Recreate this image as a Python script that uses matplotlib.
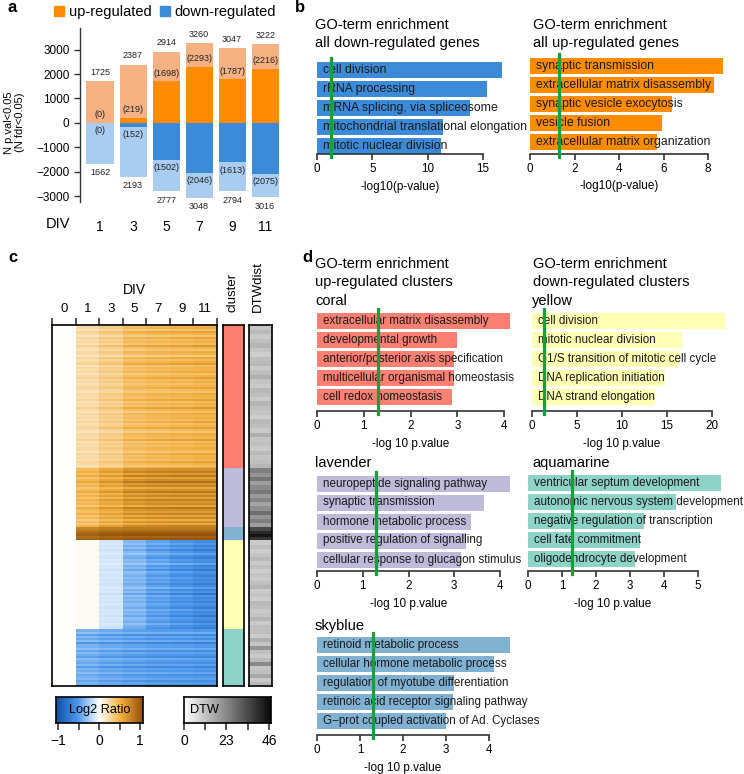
import numpy as np
import matplotlib
matplotlib.use("Agg")
import matplotlib.pyplot as plt
from matplotlib.colors import LinearSegmentedColormap, ListedColormap
from matplotlib.patches import Patch

plt.rcParams['font.family'] = ['Liberation Sans', 'DejaVu Sans']

W, H = 744, 774

########################### panel a data ###########################
div = ['1', '3', '5', '7', '9', '11']
up_total = [1725, 2387, 2914, 3260, 3047, 3222]
up_fdr = [0, 219, 1698, 2293, 1787, 2216]
down_total = [1662, 2193, 2777, 3048, 2794, 3016]
down_fdr = [0, 152, 1502, 2046, 1613, 2075]

########################### panel b data ###########################
b_down_terms = ['cell division', 'rRNA processing', 'mRNA splicing, via spliceosome',
                'mitochondrial translational elongation', 'mitotic nuclear division']
b_down_vals = [16.7, 15.4, 13.8, 11.4, 11.2]
b_up_terms = ['synaptic transmission', 'extracellular matrix disassembly',
              'synaptic vesicle exocytosis', 'vesicle fusion',
              'extracellular matrix organization']
b_up_vals = [8.66, 8.25, 6.37, 5.93, 5.7]

########################### panel c data ###########################
timepoints = ['0', '1', '3', '5', '7', '9', '11']
cluster_names = ['coral', 'lavender', 'skyblue', 'yellow', 'aquamarine']
cluster_colors = ['#FB8072', '#BEBADA', '#80B1D3', '#FFFFB3', '#8DD3C7']
cluster_rows = [143, 59, 13, 89, 57]
# mean log2 ratio per DIV for each cluster
profiles = {
    'coral':      [0, 0.22, 0.30, 0.40, 0.43, 0.45, 0.47],
    'lavender':   [0, 0.42, 0.52, 0.62, 0.65, 0.66, 0.66],
    'skyblue':    [0, 0.80, 0.84, 0.86, 0.86, 0.87, 0.87],
    'yellow':     [0, 0.03, -0.12, -0.35, -0.45, -0.52, -0.58],
    'aquamarine': [0, -0.38, -0.42, -0.45, -0.47, -0.48, -0.50],
}
# row band strength (relative to the mean profile), top to bottom
bands = {
    'coral': [0.9, 1.1, 0.8, 1.2, 1.0, 0.75, 1.15, 0.9, 1.05, 0.85, 1.3, 0.95,
              0.8, 1.1, 1.0, 0.7, 1.15, 0.9, 1.05, 1.25, 0.85, 1.0, 0.95, 1.1,
              0.8, 1.0, 1.2, 0.9, 1.05, 0.85, 1.0, 1.15, 0.9, 0.8, 1.1, 1.0,
              0.95, 1.2, 0.85, 1.05, 0.9, 1.3, 1.0, 0.8, 1.1, 0.95, 1.05, 0.9,
              1.15, 0.85, 1.0, 1.2, 0.9, 0.75, 1.1, 1.0, 0.95, 1.25, 0.85, 1.05,
              0.9, 1.1, 1.0, 0.8, 1.15, 0.95, 1.05, 0.9, 1.2, 1.0, 0.85, 1.1],
    'lavender': [1.0, 1.15, 0.9, 1.2, 0.85, 1.05, 1.25, 0.95, 1.1, 0.8, 1.0,
                 1.2, 0.9, 1.1, 0.85, 1.15, 0.95, 1.05, 0.8, 1.2, 1.0, 0.9,
                 1.1, 0.85, 1.05, 0.75, 1.0, 0.8, 1.1],
    'skyblue': [0.9, 1.0, 1.1, 1.15, 1.05, 1.12],
    'yellow': [1.0, 0.85, 1.1, 0.9, 1.2, 0.95, 0.8, 1.05, 1.15, 0.9, 1.0, 0.75,
               1.1, 0.95, 1.2, 0.85, 1.0, 1.1, 0.9, 1.05, 0.95, 1.15, 1.0, 0.8,
               1.1, 0.9, 1.25, 0.85, 1.05, 0.95, 1.1, 0.9, 1.0, 1.15, 0.85,
               1.05, 0.95, 1.2, 0.9, 1.0, 1.1, 0.85, 1.05, 1.15],
    'aquamarine': [1.0, 0.8, 1.2, 0.9, 1.1, 0.85, 1.3, 0.95, 1.0, 0.8, 1.15,
                   0.9, 1.05, 1.2, 0.85, 1.0, 1.1, 0.9, 1.25, 0.95, 1.05, 0.85,
                   1.1, 1.0, 0.9, 1.15, 0.95, 1.05],
}
dtw_bands = {
    'coral': [11, 13, 10, 12, 14, 11, 9, 12, 13, 10, 12, 15, 11, 10, 13, 12,
              10, 14, 12, 11, 9, 13, 12, 10, 15, 11, 12, 10, 13, 11, 12, 14],
    'lavender': [24, 20, 26, 18, 22, 25, 19, 23, 17, 21, 27, 20, 24, 18],
    'skyblue': [34, 40, 44, 38],
    'yellow': [10, 12, 9, 11, 13, 10, 12, 9, 11, 10, 12, 14, 10, 11, 9, 13,
               12, 10, 11, 14, 10, 12],
    'aquamarine': [12, 10, 15, 11, 20, 12, 10, 13, 22, 11, 12, 16, 10, 13],
}

########################### panel d data ###########################
coral_terms = ['extracellular matrix disassembly', 'developmental growth',
               'anterior/posterior axis specification',
               'multicellular organismal homeostasis', 'cell redox homeostasis']
coral_vals = [4.12, 3.0, 2.93, 2.93, 2.89]
yellow_terms = ['cell division', 'mitotic nuclear division',
                'G1/S transition of mitotic cell cycle', 'DNA replication initiation',
                'DNA strand elongation']
yellow_vals = [21.4, 16.7, 16.3, 14.8, 13.7]
lavender_terms = ['neuropeptide signaling pathway', 'synaptic transmission',
                  'hormone metabolic process', 'positive regulation of signalling',
                  'cellular response to glucagon stimulus']
lavender_vals = [4.22, 3.65, 3.37, 3.26, 3.15]
aqua_terms = ['ventricular septum development', 'autonomic nervous system development',
              'negative regulation of transcription', 'cell fate commitment',
              'oligodendrocyte development']
aqua_vals = [5.68, 4.36, 3.4, 3.29, 3.15]
sky_terms = ['retinoid metabolic process', 'cellular hormone metabolic process',
             'regulation of myotube differentiation',
             'retinoic acid receptor signaling pathway',
             'G\u2212prot coupled activation of Ad. Cyclases']
sky_vals = [4.49, 4.12, 3.19, 3.16, 3.0]
threshold = 1.3

up_dark, up_light = '#FF8C00', '#F6B183'
down_dark, down_light = '#3B8BD9', '#A8CDF0'
green = '#16A03C'
axcol = '#333333'

fig = plt.figure(figsize=(W / 100, H / 100), dpi=100)


def px_axes(x0, y0, x1, y1):
    # axes from pixel box (top-left origin)
    return fig.add_axes([x0 / W, 1 - y1 / H, (x1 - x0) / W, (y1 - y0) / H])


def ftext(x, y, s, **kw):
    fig.text(x / W, 1 - y / H, s, **kw)


## panel letters
for lab, x, y in [('a', 12, 8), ('b', 300, 8), ('c', 13, 258), ('d', 307, 258)]:
    ftext(x, y, lab, fontsize=12, fontweight='bold', ha='center', va='center')

########################### panel a ###########################
ax = px_axes(80, 28, 285, 202)
x = np.arange(len(div))
ax.bar(x, up_total, width=0.82, color=up_light)
ax.bar(x, up_fdr, width=0.82, color=up_dark)
ax.bar(x, [-v for v in down_total], width=0.82, color=down_light)
ax.bar(x, [-v for v in down_fdr], width=0.82, color=down_dark)
for i in range(len(div)):
    ax.annotate(str(up_total[i]), (i, up_total[i]), xytext=(0, 3), textcoords='offset points',
                ha='center', va='bottom', fontsize=6.5, color='#222222')
    ax.annotate('(%d)' % up_fdr[i], (i, up_fdr[i]), xytext=(0, 2.5), textcoords='offset points',
                ha='center', va='bottom', fontsize=6.5, color='#222222')
    ax.annotate(str(down_total[i]), (i, -down_total[i]), xytext=(0, -3.5), textcoords='offset points',
                ha='center', va='top', fontsize=6.5, color='#222222')
    ax.annotate('(%d)' % down_fdr[i], (i, -down_fdr[i]), xytext=(0, -2.5), textcoords='offset points',
                ha='center', va='top', fontsize=6.5, color='#222222')
ax.set_xlim(-0.606, 5.6)
ax.set_ylim(-3230, 3880)
ax.set_yticks([-3000, -2000, -1000, 0, 1000, 2000, 3000])
ax.tick_params(axis='y', labelsize=8.5, length=4, width=1, color=axcol)
ax.set_xticks(x)
ax.set_xticklabels(div, fontsize=10)
ax.tick_params(axis='x', length=0, pad=13)
for s in ['top', 'right', 'bottom']:
    ax.spines[s].set_visible(False)
ax.spines['left'].set_color(axcol)
ax.spines['left'].set_linewidth(1)
ftext(58, 224, 'DIV', fontsize=10.5, ha='center', va='center')
ftext(9, 123, 'N p.val<0.05', fontsize=8, rotation=90, ha='center', va='center')
ftext(20, 122, '(N fdr<0.05)', fontsize=8, rotation=90, ha='center', va='center')
fig.legend([Patch(color=up_dark), Patch(color=down_dark)], ['up-regulated', 'down-regulated'],
           loc='center', bbox_to_anchor=(165 / W, 1 - 12 / H), ncol=2, frameon=False,
           fontsize=10.5, handlelength=0.7, handleheight=0.7, handletextpad=0.3,
           columnspacing=0.6, borderaxespad=0)


########################### GO bar charts ###########################
def go_bars(left, unit, row0, axis_y, tick_max, tick_step, terms, vals, color, xlabel, fs=8.4):
    right = left + max(vals) * unit + 8
    top = row0 - 13
    ax = px_axes(left, top, right, axis_y)
    ax.set_xlim(0, (right - left) / unit)
    ax.set_ylim((axis_y - row0) / 19.0, (top - row0) / 19.0)
    ax.barh(np.arange(len(vals)), vals, height=16 / 19.0, color=color)
    for i, t in enumerate(terms):
        ax.annotate(t, (0, i), xytext=(4, 0), textcoords='offset points',
                    ha='left', va='center', fontsize=fs, color='#1a1a1a')
    ax.plot([threshold, threshold], [(top + 1 - row0) / 19.0, (axis_y + 3 - row0) / 19.0],
            color=green, lw=2.3, clip_on=False, zorder=5)
    for s in ['top', 'right', 'left']:
        ax.spines[s].set_visible(False)
    ax.spines['bottom'].set_bounds(0, tick_max)
    ax.spines['bottom'].set_color(axcol)
    ax.spines['bottom'].set_linewidth(1.2)
    ax.set_yticks([])
    ax.set_xticks(np.arange(0, tick_max + 0.01, tick_step))
    ax.tick_params(axis='x', labelsize=8.4, length=4, width=1.2, color=axcol, pad=2.5)
    ftext(left + tick_max / 2.0 * unit, axis_y + 33, xlabel, fontsize=8.5, ha='center', va='center')
    return ax


## panel b
ftext(315, 25, 'GO-term enrichment', fontsize=10.5, va='center')
ftext(315, 43, 'all down-regulated genes', fontsize=10.5, va='center')
ftext(533, 25, 'GO-term enrichment', fontsize=10.5, va='center')
ftext(533, 43, 'all up-regulated genes', fontsize=10.5, va='center')
go_bars(317, 11.07, 70, 154, 15, 5, b_down_terms, b_down_vals, down_dark, '-log10(p-value)', fs=8.8)
go_bars(530, 22.25, 66, 153.5, 8, 2, b_up_terms, b_up_vals, up_dark, '-log10(p-value)', fs=8.8)

## panel d
ftext(315, 264, 'GO-term enrichment', fontsize=10.5, va='center')
ftext(315, 282, 'up-regulated clusters', fontsize=10.5, va='center')
ftext(533, 264, 'GO-term enrichment', fontsize=10.5, va='center')
ftext(533, 282, 'down-regulated clusters', fontsize=10.5, va='center')
ftext(315, 301, 'coral', fontsize=10.5, va='center')
ftext(532, 301, 'yellow', fontsize=10.5, va='center')
ftext(315, 463, 'lavender', fontsize=10.5, va='center')
ftext(532, 463, 'aquamarine', fontsize=10.5, va='center')
ftext(315, 626, 'skyblue', fontsize=10.5, va='center')
go_bars(317, 46.8, 320.5, 411, 4, 1, coral_terms, coral_vals, '#FB8072', '-log 10 p.value')
go_bars(532, 9.0, 320.5, 411, 20, 5, yellow_terms, yellow_vals, '#FFFFB3', '-log 10 p.value')
go_bars(317, 45.75, 483.5, 571, 4, 1, lavender_terms, lavender_vals, '#BEBADA', '-log 10 p.value')
go_bars(528, 34.0, 483, 571, 5, 1, aqua_terms, aqua_vals, '#8DD3C7', '-log 10 p.value')
go_bars(317, 43.0, 645, 735, 4, 1, sky_terms, sky_vals, '#80B1D3', '-log 10 p.value')

########################### panel c ###########################
ratio_cmap = LinearSegmentedColormap.from_list(
    'ratio', [(0, '#0D4FA8'), (0.25, '#4C98EC'), (0.5, '#FFFFFF'), (0.75, '#F2AE3C'), (1, '#94520A')])
dtw_cmap = LinearSegmentedColormap.from_list('dtw', ['#FFFFFF', '#0A0A0A'])

rows = []
clus = []
dtw = []
for k, name in enumerate(cluster_names):
    n = cluster_rows[k]
    b = np.array(bands[name])
    idx = (np.arange(n) * len(b)) // n
    rows.append(np.array(profiles[name])[None, :] * b[idx][:, None])
    clus += [k] * n
    d = np.array(dtw_bands[name])
    dtw += list(d[(np.arange(n) * len(d)) // n])
mat = np.clip(np.vstack(rows), -1, 1)
nrow = mat.shape[0]

ax = px_axes(52, 325, 217, 686)
ax.imshow(mat, cmap=ratio_cmap, vmin=-1, vmax=1, aspect='auto', interpolation='nearest',
          extent=[0, 7, nrow, 0])
ax.xaxis.tick_top()
ax.set_xticks(np.arange(8))
ax.set_xticklabels([])
ax.set_xticks(np.arange(7) + 0.5, minor=True)
ax.set_xticklabels(timepoints, minor=True, fontsize=9.5)
ax.tick_params(axis='x', which='major', length=5, width=1.2, color=axcol, top=True)
ax.tick_params(axis='x', which='minor', length=0, pad=7, top=True)
ax.set_yticks([])
for s in ax.spines.values():
    s.set_linewidth(1.2)
ftext(134, 290, 'DIV', fontsize=10, ha='center', va='center')

ax = px_axes(223, 325, 244, 686)
ax.imshow(np.array(clus)[:, None], cmap=ListedColormap(cluster_colors), vmin=-0.5, vmax=4.5,
          aspect='auto', interpolation='nearest')
ax.set_xticks([])
ax.set_yticks([])
for s in ax.spines.values():
    s.set_linewidth(1.2)

ax = px_axes(249, 325, 272, 686)
ax.imshow(np.array(dtw)[:, None], cmap=dtw_cmap, vmin=0, vmax=46,
          aspect='auto', interpolation='nearest')
ax.set_xticks([])
ax.set_yticks([])
for s in ax.spines.values():
    s.set_linewidth(1.2)
ftext(233, 312, 'cluster', fontsize=9.5, rotation=90, ha='center', va='bottom')
ftext(258, 312, 'DTWdist', fontsize=9.5, rotation=90, ha='center', va='bottom')

## colour keys
grad = np.linspace(-1, 1, 200)[None, :]
ax = px_axes(56, 697, 143, 723)
ax.imshow(grad, cmap=ratio_cmap, vmin=-1, vmax=1, aspect='auto', extent=[-1.05, 1.07, 0, 1])
ax.set_xlim(-1.05, 1.07)
ax.set_xticks([-1, -0.5, 0, 0.5, 1])
ax.set_xticklabels(['\u22121', '', '0', '', '1'], fontsize=10)
ax.tick_params(axis='x', length=5, width=1.2, color=axcol, pad=3)
ax.set_yticks([])
for s in ax.spines.values():
    s.set_linewidth(1.2)
ax.text(0.5, 0.5, 'Log2 Ratio', transform=ax.transAxes, ha='center', va='center', fontsize=9.2)

grad2 = np.linspace(0, 46, 200)[None, :]
ax = px_axes(184, 697, 271, 723)
ax.imshow(grad2, cmap=dtw_cmap, vmin=0, vmax=46, aspect='auto', extent=[0, 47.1, 0, 1])
ax.set_xlim(0, 47.1)
ax.set_xticks([0, 11.5, 23, 34.5, 46])
ax.set_xticklabels(['0', '', '23', '', '46'], fontsize=10)
ax.tick_params(axis='x', length=5, width=1.2, color=axcol, pad=3)
ax.set_yticks([])
for s in ax.spines.values():
    s.set_linewidth(1.2)
ax.text(0.07, 0.5, 'DTW', transform=ax.transAxes, ha='left', va='center', fontsize=9.2)

fig.savefig('out.png', dpi=100)
